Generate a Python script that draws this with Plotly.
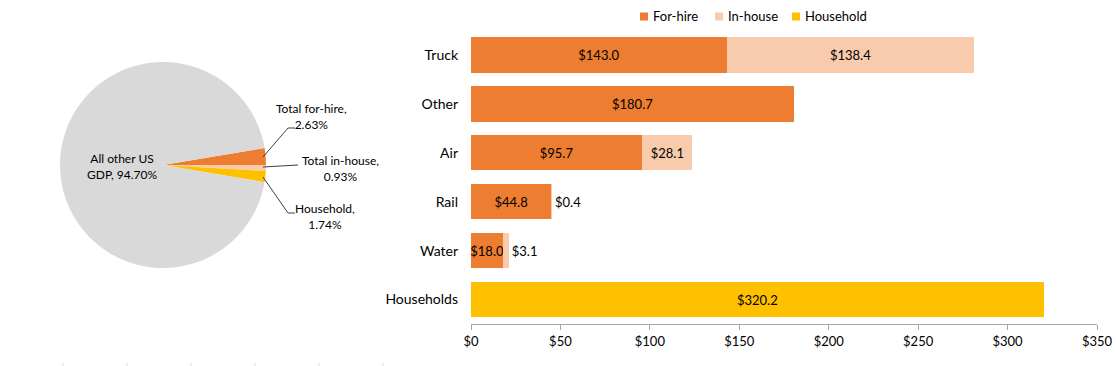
import plotly.graph_objects as go

# ---- data ----
pie_labels = ["Total for-hire", "Total in-house", "Household", "All other US GDP"]
pie_values = [2.63, 0.93, 1.74, 94.70]
pie_colors = ["#ED7D31", "#F8CBAD", "#FFC000", "#D9D9D9"]

modes = ["Truck", "Other", "Air", "Rail", "Water", "Households"]
for_hire = [143.0, 180.7, 95.7, 44.8, 18.0, None]
in_house = [138.4, None, 28.1, 0.4, 3.1, None]
household = [None, None, None, None, None, 320.2]
x_ticks = [0, 50, 100, 150, 200, 250, 300, 350]

series_names = ["For-hire", "In-house", "Household"]
series_colors = ["#ED7D31", "#F8CBAD", "#FFC000"]

W, H = 1116, 366
FONT = "Lato"

def px(x):
    return x / W

def py(y):
    return 1 - y / H

def fmt(vals):
    return ["" if v is None else f"${v:.1f}" for v in vals]

fig = go.Figure()

fig.add_trace(go.Pie(
    labels=pie_labels, values=pie_values, sort=False, direction="clockwise",
    rotation=90 - pie_values[0] * 3.6,
    marker=dict(colors=pie_colors, line=dict(width=0)),
    textinfo="none", hoverinfo="label+percent", showlegend=False,
    domain=dict(x=[px(60), px(266)], y=[py(268), py(62)]),
))

common = dict(orientation="h", insidetextanchor="middle", constraintext="none",
              textangle=0, cliponaxis=False, showlegend=False,
              textfont=dict(color="black", size=13, family=FONT))

for name, vals, color, pos in [
    (series_names[0], for_hire, series_colors[0], "inside"),
    (series_names[1], in_house, series_colors[1],
     ["inside", "inside", "inside", "outside", "outside", "none"]),
    (series_names[2], household, series_colors[2], "inside"),
]:
    fig.add_trace(go.Bar(
        name=name, y=modes, x=vals,
        marker=dict(color=color, line=dict(width=0)),
        text=fmt(vals), textposition=pos, **common,
    ))

# pie labels
ann = []
def label(x, y, text, anchor="center", size=12):
    ann.append(dict(x=px(x), y=py(y), xref="paper", yref="paper", text=text,
                    showarrow=False, xanchor=anchor, yanchor="middle",
                    font=dict(size=size, color="black", family=FONT)))
label(122, 167, "All other US<br>GDP, 94.70%")
label(312, 116, "Total for-hire,<br>2.63%")
label(340, 168, "Total in-house,<br>0.93%")
label(325, 216, "Household,<br>1.74%")

shapes = []
def seg(x0, y0, x1, y1, color="#404040", w=1):
    shapes.append(dict(type="line", xref="paper", yref="paper",
                       x0=px(x0), y0=py(y0), x1=px(x1), y1=py(y1),
                       line=dict(color=color, width=w)))
seg(263, 157, 288, 128); seg(288, 128, 295, 128)
seg(263, 167, 298, 165)
seg(263, 177, 288, 213); seg(288, 213, 295, 213)
for xx in [63, 127, 191, 255, 319, 383]:
    seg(xx, 363, xx, 366, color="#D9D9D9")

# legend (drawn manually to match compact Excel-style legend)
legend_x = [640, 715, 792]
for lx, name, color in zip(legend_x, series_names, series_colors):
    shapes.append(dict(type="rect", xref="paper", yref="paper",
                       x0=px(lx), x1=px(lx + 8), y0=py(20.5), y1=py(12.5),
                       fillcolor=color, line=dict(width=0)))
    label(lx + 11, 16, name, anchor="left", size=13)

fig.update_layout(
    width=W, height=H, margin=dict(l=0, r=0, t=0, b=0, autoexpand=False),
    paper_bgcolor="white", plot_bgcolor="white",
    font=dict(family=FONT, size=13, color="black"),
    barmode="stack", bargap=0.28, showlegend=False,
    xaxis=dict(domain=[px(471), px(1097)], range=[0, 350], tickvals=x_ticks,
               ticktext=[f"${v}" for v in x_ticks],
               showgrid=False, zeroline=False, automargin=False,
               showline=True, linecolor="#A6A6A6", linewidth=1,
               ticks="outside", ticklen=5, tickcolor="#A6A6A6",
               tickfont=dict(size=13, family=FONT, color="black")),
    yaxis=dict(domain=[py(324), py(30.6)], autorange="reversed", automargin=False,
               showgrid=False, zeroline=False, showline=False, ticks="",
               ticklabelstandoff=12, tickfont=dict(size=14, family=FONT, color="black")),
    annotations=ann, shapes=shapes,
)

fig.write_html("out.html", config={"displayModeBar": False},
               post_script="document.body.style.margin='0';document.body.style.padding='0';")
